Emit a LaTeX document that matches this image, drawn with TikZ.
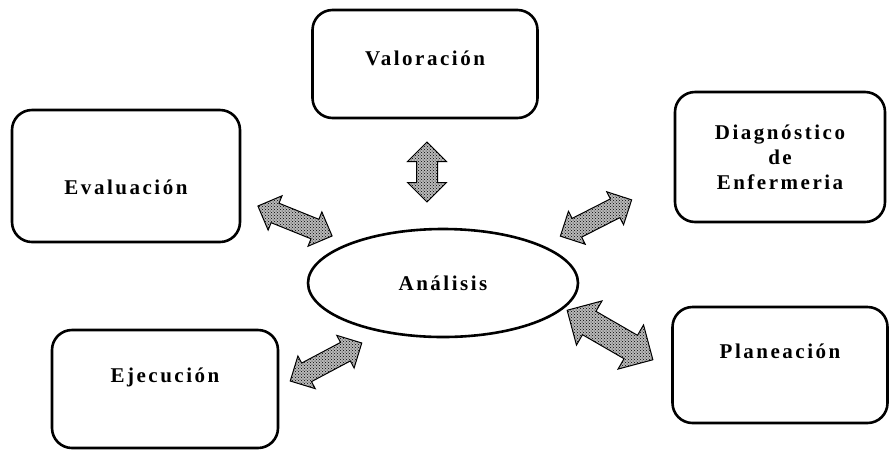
\documentclass[tikz,border=0pt]{standalone}
\usepackage{fontspec}
\setmainfont{Liberation Serif}[LetterSpace=12]
\usetikzlibrary{shapes.geometric,shapes.arrows,patterns}

\begin{document}
\begin{tikzpicture}[x=1pt,y=-1pt,
  every node/.style={font=\fontsize{21}{25}\selectfont\bfseries},
  stage node/.style={rectangle,rounded corners=20pt,draw,line width=2.6pt,align=center},
  center node/.style={ellipse,draw,line width=2.6pt},
  link arrow/.style={double arrow,draw,line width=1pt,inner xsep=0pt,
    preaction={fill=gray!55},pattern=crosshatch dots,pattern color=black}]

  \useasboundingbox (0,0) rectangle (893,451);

  \node[center node,minimum width=270pt,minimum height=108pt] (analisis) at (443,283) {Análisis};

  \node[stage node,minimum width=225pt,minimum height=108pt,text depth=12pt] (valoracion) at (425,64) {Valoración};
  \node[stage node,minimum width=228pt,minimum height=132pt,text height=38pt] (evaluacion) at (126,176) {Evaluación};
  \node[stage node,minimum width=210pt,minimum height=130pt] (diagnostico) at (780,157) {Diagnóstico\\de\\Enfermeria};
  \node[stage node,minimum width=226pt,minimum height=118pt,text depth=28pt] (ejecucion) at (165,389) {Ejecución};
  \node[stage node,minimum width=215pt,minimum height=116pt,text depth=28pt] (planeacion) at (780,365) {Planeación};

  % arrows between the stages and the analysis
  \node[link arrow,minimum height=60pt,inner ysep=10pt,double arrow head extend=9pt,rotate=90] (a1) at (427,172) {};
  \node[link arrow,minimum height=80pt,inner ysep=10pt,double arrow head extend=8pt,rotate=-22] (a2) at (295,221) {};
  \node[link arrow,minimum height=80pt,inner ysep=10pt,double arrow head extend=8pt,rotate=27] (a3) at (596,218) {};
  \node[link arrow,minimum height=81pt,inner ysep=10pt,double arrow head extend=8pt,rotate=28] (a4) at (326,362) {};
  \node[link arrow,minimum height=99pt,inner ysep=13pt,double arrow head extend=12pt,rotate=-30] (a5) at (610,335) {};
\end{tikzpicture}
\end{document}
